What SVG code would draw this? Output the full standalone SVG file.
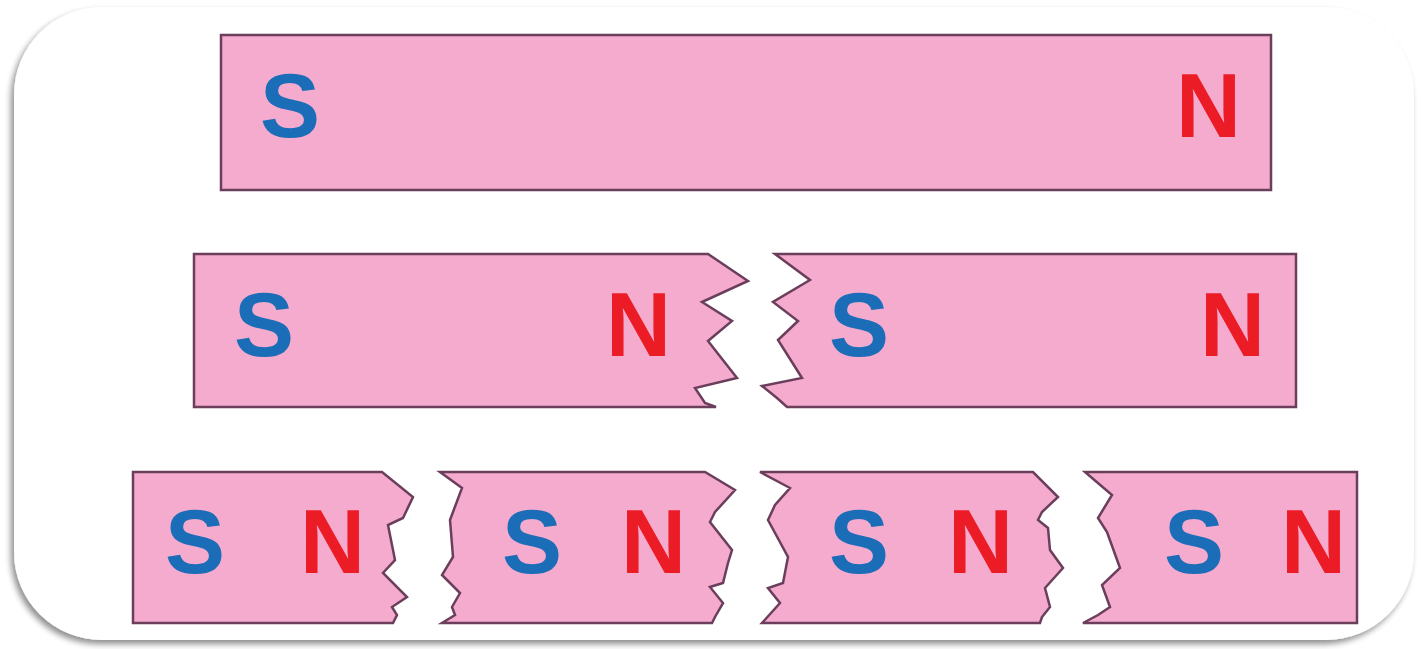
<svg xmlns="http://www.w3.org/2000/svg" width="1421" height="649" viewBox="0 0 1421 649">
  <defs>
    <filter id="frameShadow" x="-5%" y="-5%" width="110%" height="115%">
      <feGaussianBlur in="SourceAlpha" stdDeviation="3"/>
      <feOffset dx="-3" dy="4" result="off"/>
      <feComponentTransfer><feFuncA type="linear" slope="0.45"/></feComponentTransfer>
      <feMerge><feMergeNode/><feMergeNode in="SourceGraphic"/></feMerge>
    </filter>
  </defs>
  <style>
    .magnet { fill: #f4abcd; stroke: #6b3f5c; stroke-width: 2.5; stroke-linejoin: miter; }
    .pole { font-family: "Liberation Sans", Arial, sans-serif; font-weight: bold; font-size: 90px; }
    .s { fill: #1b6db8; }
    .n { fill: #ec1c27; }
  </style>

  <rect width="1421" height="649" fill="#ffffff"/>
  <!-- card frame -->
  <rect x="14" y="7" width="1400" height="633" rx="88" ry="88" fill="#ffffff" filter="url(#frameShadow)"/>

  <!-- whole magnet -->
  <g id="magnet-whole">
    <rect class="magnet" x="221" y="35" width="1050" height="155"/>
    <text class="pole s" x="260" y="137">S</text>
    <text class="pole n" x="1176" y="137">N</text>
  </g>

  <!-- magnet broken in two -->
  <g id="half-left">
    <path class="magnet" d="M194,254 L708,254 L748,281 L702,302 L732,321 L708,341 L737,378 L695,388 L705,403 L716,407 L194,407 Z"/>
    <text class="pole s" x="234" y="356">S</text>
    <text class="pole n" x="606" y="356">N</text>
  </g>
  <g id="half-right">
    <path class="magnet" d="M775,254 L1296,254 L1296,407 L787,407 L777,398 L762,386 L802,378 L778,340 L798,321 L773,302 L810,280 Z"/>
    <text class="pole s" x="829" y="356">S</text>
    <text class="pole n" x="1200" y="356">N</text>
  </g>

  <!-- magnet broken in four -->
  <g id="quarter-1">
    <path class="magnet" d="M133,472 L382,472 L413,497 L403,518 L388,525 L395,560 L383,573 L407,597 L392,607 L397,615 L393,623 L133,623 Z"/>
    <text class="pole s" x="165" y="573">S</text>
    <text class="pole n" x="300" y="573">N</text>
  </g>
  <g id="quarter-2">
    <path class="magnet" d="M440,472 L705,472 L735,490 L715,512 L710,522 L732,550 L728,563 L723,583 L710,587 L723,603 L715,617 L712,623 L442,623 L455,615 L452,607 L460,593 L442,575 L453,557 L450,520 L462,488 Z"/>
    <text class="pole s" x="502" y="573">S</text>
    <text class="pole n" x="621" y="573">N</text>
  </g>
  <g id="quarter-3">
    <path class="magnet" d="M760,472 L1033,472 L1058,497 L1042,512 L1038,520 L1048,528 L1050,550 L1063,568 L1045,588 L1050,607 L1042,617 L1040,623 L762,623 L780,603 L768,588 L783,583 L788,557 L768,520 L775,505 L790,488 Z"/>
    <text class="pole s" x="829" y="573">S</text>
    <text class="pole n" x="948" y="573">N</text>
  </g>
  <g id="quarter-4">
    <path class="magnet" d="M1085,472 L1357,472 L1357,623 L1083,623 L1098,615 L1110,607 L1102,585 L1120,568 L1107,532 L1098,518 L1112,495 Z"/>
    <text class="pole s" x="1164" y="573">S</text>
    <text class="pole n" x="1281" y="573">N</text>
  </g>

  <g id="connectors"/>
</svg>
